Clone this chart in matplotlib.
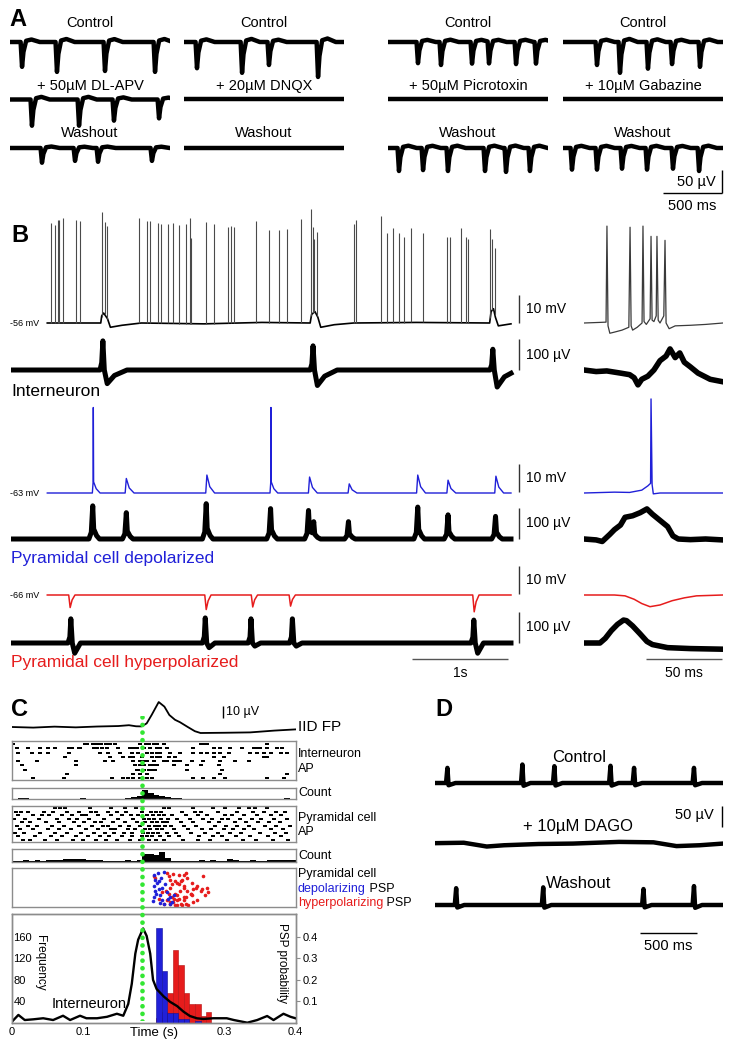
import numpy as np
import matplotlib
matplotlib.use("Agg")
import matplotlib.pyplot as plt

plt.rcParams["font.family"] = ["Liberation Sans", "DejaVu Sans"]

W, H = 733, 1048
BLUE = "#2020d8"
RED = "#e61c1c"
GREEN = "#33e633"
BOX = "#8c8c8c"

# ---------------- panel A: field potentials, times in ms, dip depth in uV
a_titles = [
    ["Control", "+ 50µM DL-APV", "Washout"],
    ["Control", "+ 20µM DNQX", "Washout"],
    ["Control", "+ 50µM Picrotoxin", "Washout"],
    ["Control", "+ 10µM Gabazine", "Washout"],
]
a_ctrl1_t = [102, 398, 805, 1229]
a_ctrl1_d = [54, 65, 63, 65]
a_apv_t = [186, 585, 881, 1263]
a_apv_d = [57, 57, 46, 41]
a_wash1_t = [271, 551, 746, 1203]
a_wash1_d = [32, 28, 30, 28]
a_ctrl2_t = [110, 492, 720, 1136]
a_ctrl2_d = [57, 67, 50, 76]
a_ctrl3_t = [254, 449, 712, 856, 1085, 1254]
a_ctrl3_d = [46, 50, 47, 47, 48, 47]
a_wash3_t = [93, 297, 508, 822, 1000, 1203]
a_wash3_d = [50, 48, 50, 50, 52, 50]
a_ctrl4_t = [288, 483, 720, 924, 1161]
a_ctrl4_d = [50, 67, 58, 48, 54]
a_wash4_t = [76, 288, 500, 712, 932, 1153]
a_wash4_d = [47, 47, 45, 47, 45, 50]

# ---------------- panel B, left part (s, mV / uV)
int_spk_t = [0.417, 0.460, 0.489, 0.499, 0.542, 0.674, 0.713, 0.938, 0.970, 0.999,
             1.327, 1.406, 1.445, 1.524, 1.559, 1.631, 1.677, 1.738, 1.816, 1.855,
             1.863, 2.016, 2.102, 2.248, 2.280, 2.309, 2.544, 2.676, 2.780, 2.858,
             3.008, 3.112, 3.130, 3.140, 3.172, 3.558, 3.572, 3.833, 3.897, 3.961,
             4.022, 4.068, 4.147, 4.272, 4.518, 4.554, 4.664, 4.714, 4.739, 4.967,
             4.985, 5.014]
int_spk_h = [35.1, 34.4, 36.3, 36.3, 36.9, 36.3, 35.7, 37.1, 32.6, 32.6,
             36.9, 35.9, 35.9, 35.1, 34.7, 34.7, 35.1, 34.4, 35.1, 37.1,
             30.1, 35.7, 35.1, 33.8, 34.2, 33.8, 35.7, 32.6, 32.6, 33.0,
             36.3, 37.5, 30.1, 25.8, 29.5, 34.7, 36.3, 37.5, 31.4, 33.2,
             31.4, 30.1, 33.2, 31.4, 30.1, 30.1, 33.2, 30.1, 29.5, 31.0,
             25.2, 23.4]
int_vm_t = [0.376, 0.93, 0.94, 0.96, 1.0, 1.03, 1.15, 1.35, 2.0, 2.6, 3.10, 3.115, 3.15,
            3.18, 3.21, 3.35, 3.55, 4.2, 4.96, 4.975, 5.0, 5.02, 5.05, 5.181]
int_vm_v = [0, 0, 2.5, 3.5, 1.5, -1.5, -0.8, 0, -0.3, 0.2, 0, 3, 4,
            2, -1.5, -0.6, 0, 0.2, 0, 4, 5, 2, -1.0, -0.3]
int_fp_t = [0.952, 3.130, 4.993]
int_fp_up = [94, 78, 67]
int_fp_down = [-44, -50, -55]

dep_spk_t = [0.853, 2.694]
dep_spk_h = [30, 30]
dep_psp_t = [1.195, 2.030, 3.094, 3.505, 4.215, 4.529, 5.025]
dep_psp_h = [5.1, 6.3, 5.6, 3.2, 6.3, 4.5, 5.9]
dep_fp_t = [0.847, 1.195, 2.023, 2.690, 3.083, 3.137, 3.497, 4.215, 4.529, 5.021]
dep_fp_h = [107, 85, 114, 98, 92, 51, 56, 103, 78, 73]

hyp_ipsp_t = [0.613, 2.023, 2.505, 2.897, 4.800]
hyp_ipsp_d = [4.4, 5.1, 4.2, 3.9, 5.9]
hyp_fp_t = [0.620, 2.013, 2.487, 2.916, 4.796]
hyp_fp_up = [78, 81, 78, 78, 74]
hyp_fp_down = [-33, -15, -10, -10, -33]

# ---------------- panel B, right part (ms, mV / uV)
r_int_vm_t = [0, 10, 14.5, 15.1, 15.8, 17, 20, 25, 29.5, 30.3, 31, 32, 35, 38.2, 38.8,
              39.5, 41, 43.5, 44.1, 44.8, 46, 47.5, 48, 48.8, 50, 52.5, 53.3, 54,
              56, 60, 70, 80, 91.4]
r_int_vm_v = [0, 0.2, 0.3, 34, -1, -3.6, -3.2, -2.5, -1.5, 33.6, -1, -2.5, -1.5, 0, 34,
              0.5, -0.5, 1.5, 30.4, 1, 0.5, 2.5, 30.4, 1, 0, 2.5, 29, 0,
              -2, -1, -0.8, -0.5, 0]
r_int_fp_t = [0, 8, 15, 24, 30, 33, 35.5, 38, 42, 46, 50, 54, 56.6, 60, 63, 66, 70, 75, 83, 91.4]
r_int_fp_v = [0, -5, -3, -10, -15, -25, -48, -30, -20, 0, 30, 45, 68, 40, 55, 25, 10, -10, -30, -38]
r_dep_vm_t = [0, 20, 30, 38, 42, 43.8, 44.1, 44.8, 45.6, 50, 91.4]
r_dep_vm_v = [0, 0.3, 0.2, 1, 2.5, 3.4, 33, 3, -0.3, 0, 0]
r_dep_fp_t = [0, 8, 12, 17, 20, 24, 27, 32, 37, 41.4, 45, 50, 55, 58.5, 62, 70, 80, 91.4]
r_dep_fp_v = [0, -3, -8, 15, 30, 45, 70, 75, 85, 97, 80, 60, 40, 10, 0, -2, 0, -3]
r_hyp_vm_t = [0, 20, 27, 33, 38, 43.4, 50, 58, 66, 74, 91.4]
r_hyp_vm_v = [0, 0, -0.3, -1.5, -3, -4.1, -3.5, -2, -1, -0.3, 0]
r_hyp_fp_t = [0, 10.5, 14, 18, 22, 26, 28, 32, 36.8, 41.4, 45, 55, 70, 91.4]
r_hyp_fp_v = [0, 0, 15, 40, 60, 74, 72, 55, 30, 5, -5, -15, -18, -20]

# ---------------- panel C
iid_t = [0, 0.03, 0.06, 0.09, 0.12, 0.15, 0.165, 0.175, 0.183, 0.19, 0.197, 0.207, 0.215,
         0.222, 0.23, 0.237, 0.248, 0.258, 0.266, 0.3, 0.336, 0.37, 0.4]
iid_v = [0, -0.5, 0.3, -0.3, 0.4, 0.8, 1.5, 0.6, 0.5, 3, 10, 20.8, 17,
         10, 6, 4, 0, -3.5, -5, -4.8, -4.5, -3, -2]
iid_onset = 0.184

int_raster_ms = [
    [2, 103, 106, 114, 120, 125, 133, 138, 146, 181, 189, 193, 200, 204, 214, 266, 271, 275, 360],
    [7, 23, 40, 51, 61, 80, 84, 94, 96, 115, 120, 127, 134, 150, 167, 171, 176, 186, 195, 204,
     209, 219, 255, 285, 294, 308, 325, 341, 346, 350, 360, 374, 381],
    [9, 28, 40, 51, 80, 124, 136, 153, 169, 178, 190, 197, 204, 209, 223, 237, 256, 266, 275,
     285, 294, 306, 336, 346, 355, 365, 379, 388],
    [75, 138, 157, 167, 171, 183, 197, 204, 209, 221, 230, 285, 299, 355, 360],
    [9, 35, 91, 131, 143, 171, 181, 186, 190, 200, 214, 219, 228, 233, 237, 254, 270, 294, 315, 334],
    [14, 91, 174, 181, 186, 195, 200, 204, 228, 247, 266, 292],
    [18, 176, 178, 186, 193, 197, 202, 247, 296],
    [77, 171, 181, 190, 294, 388],
    [30, 73, 141, 157, 164, 171, 181, 190, 197, 256, 270, 285, 301, 360, 384],
]
pyr_raster_ms = [
    [60, 68, 75, 110, 140, 160, 175, 215, 222, 255, 283, 300, 320, 335, 343, 360],
    [5, 12, 22, 45, 58, 78, 95, 112, 118, 136, 148, 161, 183, 196, 203, 210, 240, 258, 266,
     290, 318, 340, 355, 372, 385],
    [9, 30, 42, 52, 70, 85, 99, 105, 122, 140, 155, 168, 178, 191, 199, 207, 214, 226, 246,
     262, 275, 300, 311, 327, 345, 366, 380],
    [3, 19, 38, 63, 80, 92, 108, 130, 150, 171, 186, 194, 201, 210, 220, 233, 251, 270, 282,
     297, 305, 322, 338, 352, 369, 388],
    [14, 26, 48, 66, 88, 101, 117, 126, 143, 159, 176, 188, 197, 205, 213, 219, 238, 256, 278,
     292, 315, 330, 347, 362, 378],
    [7, 23, 35, 57, 73, 94, 113, 128, 135, 152, 165, 181, 193, 202, 208, 216, 225, 243, 260,
     287, 302, 318, 334, 357, 373, 392],
    [11, 29, 51, 67, 83, 104, 121, 139, 146, 163, 174, 187, 195, 204, 212, 228, 248, 268, 281,
     299, 312, 328, 341, 365, 383],
    [4, 17, 40, 61, 77, 97, 115, 131, 144, 158, 169, 185, 192, 199, 206, 218, 231, 253, 273,
     290, 307, 323, 350, 371, 387],
    [9, 33, 55, 70, 90, 107, 124, 137, 155, 170, 184, 190, 198, 209, 222, 236, 264, 284, 296,
     316, 336, 361, 379],
    [15, 25, 46, 64, 86, 100, 119, 133, 148, 166, 180, 193, 203, 214, 241, 262, 279, 303, 326,
     344, 368, 389],
]
count_bin_ms = 8
int_count = [1, 2, 2, 0, 0, 1, 0, 0, 1, 0, 1, 0, 2, 0, 1, 0, 0, 1, 0, 1,
             2, 6, 9, 28, 18, 12, 8, 5, 4, 2, 1, 0, 1, 0, 0, 1, 0, 0, 1, 0,
             0, 1, 0, 0, 1, 0, 1, 0, 3, 0]
pyr_count = [2, 3, 6, 4, 5, 4, 5, 5, 7, 8, 10, 8, 8, 7, 5, 5, 3, 2, 4, 4,
             5, 4, 5, 25, 25, 22, 30, 12, 4, 4, 4, 3, 4, 5, 4, 5, 4, 4, 8, 6,
             4, 4, 5, 4, 4, 6, 7, 7, 7, 7]

psp_dep_ms = [199.8, 202.1, 204.5, 200.7, 206.8, 203.5, 209.2, 199.8, 211.5, 208.3, 213.9,
              210.1, 216.3, 218.6, 222.4, 225.7, 205.9, 212.0, 201.7, 214.9, 219.6, 228.0,
              198.8, 207.3, 223.3]
psp_dep_trial = [2.7, 5.5, 7.3, 9.1, 10.9, 13.6, 14.5, 15.5, 17.3, 18.7, 1.3,
                 4.5, 8.2, 12.7, 15.5, 18.2, 1.8, 10, 11.8, 19.1, 16.4, 14.5,
                 17.6, 6.4, 19.1]
psp_hyp_ms = [200, 202, 218, 221, 223, 227, 230, 233, 235, 238, 240, 242, 245, 242, 247,
              252, 256, 259, 261, 266, 268, 270, 275, 277, 273, 246, 254, 242, 233, 227,
              223, 230, 238, 235, 226, 221, 217, 212, 207, 219, 245, 240, 261, 256, 249,
              214, 228, 233, 252, 247, 235, 226, 223, 254, 242, 237, 230, 242, 223, 233]
psp_hyp_trial = [3.6, 4.5, 1.8, 3.6, 5.5, 2.4, 6.4, 7.3, 8.2, 6.4, 5.5, 2.7, 1.8, 10, 11.8,
                 13.6, 10.9, 10, 9.1, 11.8, 10.9, 3.6, 10, 12.7, 14.5, 15.5, 14.5, 15.5, 17.3, 18.2,
                 19.1, 20, 19.1, 16.4, 15.5, 13.6, 11.8, 12.7, 16.4, 17.3, 19.1, 20, 17.3, 18.2, 20,
                 19.1, 16.4, 14.5, 13.6, 4.5, 2.7, 8.2, 10, 7.3, 9.1, 11.8, 13.6, 17.3, 18.2, 20]

freq_t = [0, 0.009, 0.018, 0.030, 0.044, 0.058, 0.072, 0.082, 0.096, 0.105, 0.120, 0.134,
          0.148, 0.157, 0.164, 0.169, 0.174, 0.178, 0.185, 0.190, 0.195, 0.199, 0.204, 0.214,
          0.223, 0.233, 0.242, 0.251, 0.261, 0.270, 0.284, 0.303, 0.313, 0.332, 0.346, 0.360,
          0.369, 0.383, 0.393, 0.400]
freq_v = [2, 14.5, 5, 6.3, 8.3, 5, 13, 5, 13, 8.3, 8.3, 11,
          16.7, 13, 35, 72.7, 129, 155, 176, 162, 129, 80, 63, 49,
          39, 31, 20.6, 12.5, 8.2, 7, 8.3, 8.3, 5, 0, 5, 12.5,
          5, 16.7, 11, 8.3]
psp_edges = [0.203, 0.211, 0.219, 0.227, 0.234, 0.242, 0.250, 0.258, 0.266, 0.274, 0.281]
psp_dep_prob = [0.44, 0.24, 0.045, 0.045, 0.015, 0.015, 0.0, 0.01, 0.0, 0.0]
psp_hyp_prob = [0.02, 0.05, 0.14, 0.34, 0.27, 0.14, 0.088, 0.088, 0.033, 0.052]

# ---------------- panel D (s, uV)
d_ctrl_t = [0.108, 0.760, 1.038, 1.526, 1.731, 2.252]
d_ctrl_h = [36, 44, 40, 41, 36, 36]
d_dago_t = [0, 0.25, 0.45, 0.6, 0.9, 1.2, 1.6, 1.9, 2.1, 2.3, 2.504]
d_dago_v = [2, 3, -6, -3, 0, 1, 5, 4, -5, -3, 1]
d_wash_t = [0.184, 0.941, 1.813, 2.252]
d_wash_h = [40, 42, 38, 45]


# ---------------- helpers
fig = plt.figure(figsize=(W / 100, H / 100), dpi=100)

# small flat rectangle used as raster tick
DASH = [(-1, -0.55), (1, -0.55), (1, 0.55), (-1, 0.55), (-1, -0.55)]


def px_ax(x0, y0, x1, y1):
    return fig.add_axes([x0 / W, 1 - y1 / H, (x1 - x0) / W, (y1 - y0) / H])


def trace_ax(x0, x1, xlim, ybase, ppu, up, down):
    ax = px_ax(x0, ybase - up, x1, ybase + down)
    ax.set_xlim(*xlim)
    ax.set_ylim(-down / ppu, up / ppu)
    ax.axis("off")
    return ax


def shapes(times, amps, dt, rel):
    return [(t + np.array(dt, float), a * np.array(rel, float)) for t, a in zip(times, amps)]


def assemble(t0, t1, shp, base_t=None, base_v=None):
    ts = [t0, t1]
    for st, _ in shp:
        ts.extend(st)
    if base_t is not None:
        ts.extend(base_t)
    ts = np.unique(np.clip(ts, t0, t1))
    v = np.zeros(len(ts))
    for st, sv in shp:
        v += np.interp(ts, st, sv, left=0, right=0)
    if base_t is not None:
        v += np.interp(ts, base_t, base_v)
    return ts, v


def boxed(ax):
    ax.set_xticks([])
    ax.set_yticks([])
    for s in ax.spines.values():
        s.set_color(BOX)
        s.set_linewidth(1.0)


# ---------------- panel A
A_X = [10, 184, 388, 563]
A_Y = [42, 99.5, 148]
A_W = 160
A_PPMS = 0.118
A_PPU = 0.46
A_DT = [-12, 0, 12, 35, 80, 150]
A_REL = [0, -1, -0.4, 0.05, 0.1, 0]
a_traces = {
    (0, 0): (a_ctrl1_t, a_ctrl1_d), (0, 1): (a_apv_t, a_apv_d), (0, 2): (a_wash1_t, a_wash1_d),
    (1, 0): (a_ctrl2_t, a_ctrl2_d), (1, 1): ([], []), (1, 2): ([], []),
    (2, 0): (a_ctrl3_t, a_ctrl3_d), (2, 1): ([], []), (2, 2): (a_wash3_t, a_wash3_d),
    (3, 0): (a_ctrl4_t, a_ctrl4_d), (3, 1): ([], []), (3, 2): (a_wash4_t, a_wash4_d),
}
a_tmax = A_W / A_PPMS
for (c, r), (tt, dd) in a_traces.items():
    ax = trace_ax(A_X[c], A_X[c] + A_W, (0, a_tmax), A_Y[r], A_PPU, 15, 40)
    t, v = assemble(0, a_tmax, shapes(tt, dd, A_DT, A_REL))
    ax.plot(t, v, color="black", lw=3.2, solid_joinstyle="round")

# ---------------- panel B left
B_PPS = 96.5
B_XMAX = (519 - 11) / B_PPS
B_MV = 2.85
B_UV = 0.31
B_ROWS = [323, 370, 493, 539, 595, 643]

ax = trace_ax(11, 519, (0, B_XMAX), B_ROWS[0], B_MV, 115, 15)
ax.plot(int_vm_t, int_vm_v, color="black", lw=1.2)
b0 = np.interp(int_spk_t, int_vm_t, int_vm_v)
ax.vlines(int_spk_t, b0, b0 + np.array(int_spk_h), color="#4a4a4a", lw=0.8)

ax = trace_ax(11, 519, (0, B_XMAX), B_ROWS[1], B_UV, 40, 30)
shp = shapes(int_fp_t, int_fp_up, [-0.03, -0.012, 0, 0.015], [0, 0.25, 1, 0])
shp += shapes(int_fp_t, int_fp_down, [0.015, 0.045, 0.12, 0.25], [0, 1, 0.4, 0])
t, v = assemble(0, B_XMAX - 0.083, shp)
ax.plot(t, v, color="black", lw=3.6)

ax = trace_ax(11, 519, (0, B_XMAX), B_ROWS[2], B_MV, 100, 10)
shp = shapes(dep_spk_t, dep_spk_h, [-0.01, -0.002, 0, 0.003, 0.03, 0.07],
             [0, 0.13, 1, 0.13, 0.05, 0])
shp += shapes(dep_psp_t, dep_psp_h, [-0.012, 0, 0.03, 0.08], [0, 1, 0.35, 0])
t, v = assemble(0.376, B_XMAX - 0.083, shp)
ax.plot(t, v, color=BLUE, lw=1.0)

ax = trace_ax(11, 519, (0, B_XMAX), B_ROWS[3], B_UV, 40, 15)
shp = shapes(dep_fp_t, dep_fp_h, [-0.04, -0.015, 0, 0.01, 0.04, 0.07], [0, 0.2, 1, 0.3, 0.1, 0])
t, v = assemble(0, B_XMAX - 0.083, shp)
ax.plot(t, v, color="black", lw=3.6)

ax = trace_ax(11, 519, (0, B_XMAX), B_ROWS[4], B_MV, 10, 25)
shp = shapes(hyp_ipsp_t, hyp_ipsp_d, [-0.015, 0, 0.02, 0.05], [0, -1, -0.4, 0])
t, v = assemble(0.376, B_XMAX - 0.083, shp)
ax.plot(t, v, color=RED, lw=1.1)

ax = trace_ax(11, 519, (0, B_XMAX), B_ROWS[5], B_UV, 35, 20)
shp = shapes(hyp_fp_t, hyp_fp_up, [-0.03, -0.01, 0, 0.015], [0, 0.25, 1, 0])
shp += shapes(hyp_fp_t, hyp_fp_down, [0.015, 0.04, 0.1], [0, 1, 0])
t, v = assemble(0, B_XMAX - 0.083, shp)
ax.plot(t, v, color="black", lw=3.6)

# ---------------- panel B right
BR_PPMS = 1.52
BR_XMAX = (723 - 584) / BR_PPMS
r_specs = [
    (r_int_vm_t, r_int_vm_v, B_ROWS[0], B_MV, "#3a3a3a", 0.9),
    (r_int_fp_t, r_int_fp_v, B_ROWS[1], B_UV, "black", 4.0),
    (r_dep_vm_t, r_dep_vm_v, B_ROWS[2], B_MV, BLUE, 1.0),
    (r_dep_fp_t, r_dep_fp_v, B_ROWS[3], B_UV, "black", 4.0),
    (r_hyp_vm_t, r_hyp_vm_v, B_ROWS[4], B_MV, RED, 1.1),
    (r_hyp_fp_t, r_hyp_fp_v, B_ROWS[5], B_UV, "black", 4.0),
]
for tt, vv, base, ppu, col, lw in r_specs:
    ax = trace_ax(584, 723, (0, BR_XMAX), base, ppu, 110, 30)
    ax.plot(tt, vv, color=col, lw=lw)

# ---------------- panel C
C_X0, C_X1 = 12, 295.5
C_PPU = 1.2

ax = trace_ax(C_X0, C_X1, (0, 0.4), 727, C_PPU, 30, 12)
ax.plot(iid_t, iid_v, color="black", lw=1.3)

ax = px_ax(C_X0, 741, C_X1, 780)
for i, row in enumerate(int_raster_ms):
    ax.plot(np.array(row) / 1000, [i] * len(row), ls="none", marker=DASH, ms=2.4,
            mew=0, color="black")
ax.set_xlim(0, 0.4)
ax.set_ylim(8.4, -0.7)
boxed(ax)

edges = np.arange(len(int_count)) * count_bin_ms / 1000
ax = px_ax(C_X0, 788, C_X1, 799)
ax.bar(edges, int_count, width=count_bin_ms / 1000, align="edge", color="black", lw=0)
ax.set_xlim(0, 0.4)
ax.set_ylim(0, 33)
boxed(ax)

ax = px_ax(C_X0, 806, C_X1, 842)
for i, row in enumerate(pyr_raster_ms):
    ax.plot(np.array(row) / 1000, [i] * len(row), ls="none", marker=DASH, ms=2.4,
            mew=0, color="black")
ax.set_xlim(0, 0.4)
ax.set_ylim(9.6, -0.7)
boxed(ax)

ax = px_ax(C_X0, 849, C_X1, 862)
ax.bar(edges, pyr_count, width=count_bin_ms / 1000, align="edge", color="black", lw=0)
ax.set_xlim(0, 0.4)
ax.set_ylim(0, 39)
boxed(ax)

ax = px_ax(C_X0, 868, C_X1, 907)
ax.plot(np.array(psp_hyp_ms) / 1000, psp_hyp_trial, ls="none", marker="o", ms=2.6,
        mew=0, color=RED)
ax.plot(np.array(psp_dep_ms) / 1000, psp_dep_trial, ls="none", marker="o", ms=2.6,
        mew=0, color=BLUE)
ax.set_xlim(0, 0.4)
ax.set_ylim(21, -1)
boxed(ax)

axf = px_ax(C_X0, 914, C_X1, 1022.7)
axp = axf.twinx()
lefts = psp_edges[:-1]
widths = np.diff(psp_edges)
axp.bar(lefts, psp_hyp_prob, width=widths, align="edge", color=RED, edgecolor="#b01010", lw=0.4)
axp.bar(lefts, psp_dep_prob, width=widths, align="edge", color=BLUE, edgecolor="#10109a", lw=0.4)
axp.set_ylim(0, 0.5075)
axp.set_yticks([0.1, 0.2, 0.3, 0.4])
axp.tick_params(axis="y", direction="out", length=3, color=BOX, labelsize=8, pad=2)
axf.set_zorder(axp.get_zorder() + 1)
axf.patch.set_visible(False)
axf.plot(freq_t, freq_v, color="black", lw=1.7)
axf.set_xlim(0, 0.4)
axf.set_ylim(0, 203)
axf.set_yticks([40, 80, 120, 160])
axf.tick_params(axis="y", direction="in", length=0, pad=-1, labelsize=8)
for lab in axf.get_yticklabels():
    lab.set_horizontalalignment("left")
axf.set_xticks([0, 0.1, 0.3, 0.4])
axf.set_xticklabels(["0", "0.1", "0.3", "0.4"])
axf.tick_params(axis="x", length=0, pad=3, labelsize=8)
axf.set_xlabel("Time (s)", fontsize=9.5, labelpad=-7)
for a in (axf, axp):
    for s in a.spines.values():
        s.set_color(BOX)
        s.set_linewidth(1.0)

gax = px_ax(C_X0, 716, C_X1, 1021)
gax.set_xlim(0, 0.4)
gax.set_ylim(0, 1)
gax.axis("off")
gax.set_zorder(20)
gax.plot([iid_onset, iid_onset], [0, 1], color=GREEN, lw=3.4, ls=(0, (0.01, 1.6)),
         dash_capstyle="round")

# ---------------- panel D
D_X0, D_X1 = 435, 723
D_PPS = 115
D_XMAX = (D_X1 - D_X0) / D_PPS
D_PPU = 0.42
D_SPK_DT = [-0.012, 0, 0.01, 0.03, 0.07]
D_SPK_REL = [0, 1, -0.15, -0.1, 0]

ax = trace_ax(D_X0, D_X1, (0, D_XMAX), 783, D_PPU, 30, 15)
t, v = assemble(0, D_XMAX, shapes(d_ctrl_t, d_ctrl_h, D_SPK_DT, D_SPK_REL))
ax.plot(t, v, color="black", lw=3.2)

ax = trace_ax(D_X0, D_X1, (0, D_XMAX), 844, D_PPU, 20, 15)
ax.plot(d_dago_t, d_dago_v, color="black", lw=3.2)

ax = trace_ax(D_X0, D_X1, (0, D_XMAX), 905, D_PPU, 30, 15)
t, v = assemble(0, D_XMAX, shapes(d_wash_t, d_wash_h, D_SPK_DT, D_SPK_REL))
ax.plot(t, v, color="black", lw=3.2)

# ---------------- overlay: labels and scale bars (pixel coordinates)
ov = fig.add_axes([0, 0, 1, 1])
ov.set_xlim(0, W)
ov.set_ylim(H, 0)
ov.axis("off")
ov.set_zorder(10)


def txt(x, y, s, size=10, ha="left", va="center", color="black", **kw):
    return ov.text(x, y, s, fontsize=size, ha=ha, va=va, color=color, **kw)


def bar(x0, y0, x1, y1, color="black", lw=1.0):
    ov.plot([x0, x1], [y0, y1], color=color, lw=lw, solid_capstyle="butt")


for lab, x, y in [("A", 9, 20), ("B", 11, 235), ("C", 11, 710), ("D", 435, 710)]:
    txt(x, y, lab, size=17, weight="bold")

for c in range(4):
    for r, ty in enumerate([23, 86, 133]):
        txt(A_X[c] + A_W / 2, ty, a_titles[c][r], size=10.5, ha="center")

bar(722, 193 - 50 * A_PPU, 722, 193)
bar(722 - 500 * A_PPMS, 193, 722, 193)
txt(716, 182, "50 µV", size=10.5, ha="right")
txt(692, 206, "500 ms", size=10.5, ha="center")

# B scale bars and labels
for base, unit, amt, ppu in [(B_ROWS[0], "10 mV", 10, B_MV), (B_ROWS[1], "100 µV", 100, B_UV),
                             (B_ROWS[2] - 1, "10 mV", 10, B_MV), (B_ROWS[3], "100 µV", 100, B_UV),
                             (B_ROWS[4] - 1, "10 mV", 10, B_MV), (B_ROWS[5], "100 µV", 100, B_UV)]:
    bar(519, base - amt * ppu, 519, base, color="#333333")
    txt(526, base - amt * ppu / 2, unit, size=10)
txt(10, B_ROWS[0] + 1, "-56 mV", size=6.5)
txt(10, B_ROWS[2] + 1, "-63 mV", size=6.5)
txt(10, B_ROWS[4] + 1, "-66 mV", size=6.5)
txt(11, 392, "Interneuron", size=12.5)
txt(11, 558, "Pyramidal cell depolarized", size=12.5, color=BLUE)
txt(11, 663, "Pyramidal cell hyperpolarized", size=12.5, color=RED)
bar(508 - B_PPS, 659, 508, 659, color="#555555")
txt(508 - B_PPS / 2, 673, "1s", size=10, ha="center")
bar(722 - 50 * BR_PPMS, 659, 722, 659, color="#555555")
txt(722 - 25 * BR_PPMS, 673, "50 ms", size=10, ha="center")

# C labels
bar(223, 718 - 10 * C_PPU, 223, 718)
txt(226, 712, "10 µV", size=9)
txt(298, 727, "IID FP", size=11)
for s, y in [("Interneuron", 754), ("AP", 769), ("Count", 793), ("Pyramidal cell", 818),
             ("AP", 832), ("Count", 856), ("Pyramidal cell", 874)]:
    txt(298, y, s, size=9)
t1 = txt(298, 889, "depolarizing", size=9, color=BLUE)
ov.annotate(" PSP", xy=(1, 0.5), xycoords=t1, va="center", ha="left", fontsize=9)
t2 = txt(298, 903, "hyperpolarizing", size=9, color=RED)
ov.annotate(" PSP", xy=(1, 0.5), xycoords=t2, va="center", ha="left", fontsize=9)
txt(40, 963, "Frequency", size=8.5, ha="center", rotation=-90)
txt(282, 963, "PSP probability", size=8.5, ha="center", rotation=-90)
txt(52, 1004, "Interneuron", size=10.5)

# D labels
txt(579, 757, "Control", size=12, ha="center")
txt(578, 827, "+ 10µM DAGO", size=12, ha="center")
txt(579, 884, "Washout", size=12, ha="center")
bar(722, 827 - 50 * D_PPU, 722, 827)
txt(714, 815, "50 µV", size=10.5, ha="right")
bar(697 - 0.5 * D_PPS, 933, 697, 933)
txt(697 - 0.25 * D_PPS, 946, "500 ms", size=10.5, ha="center")

fig.savefig("out.png", dpi=100)
